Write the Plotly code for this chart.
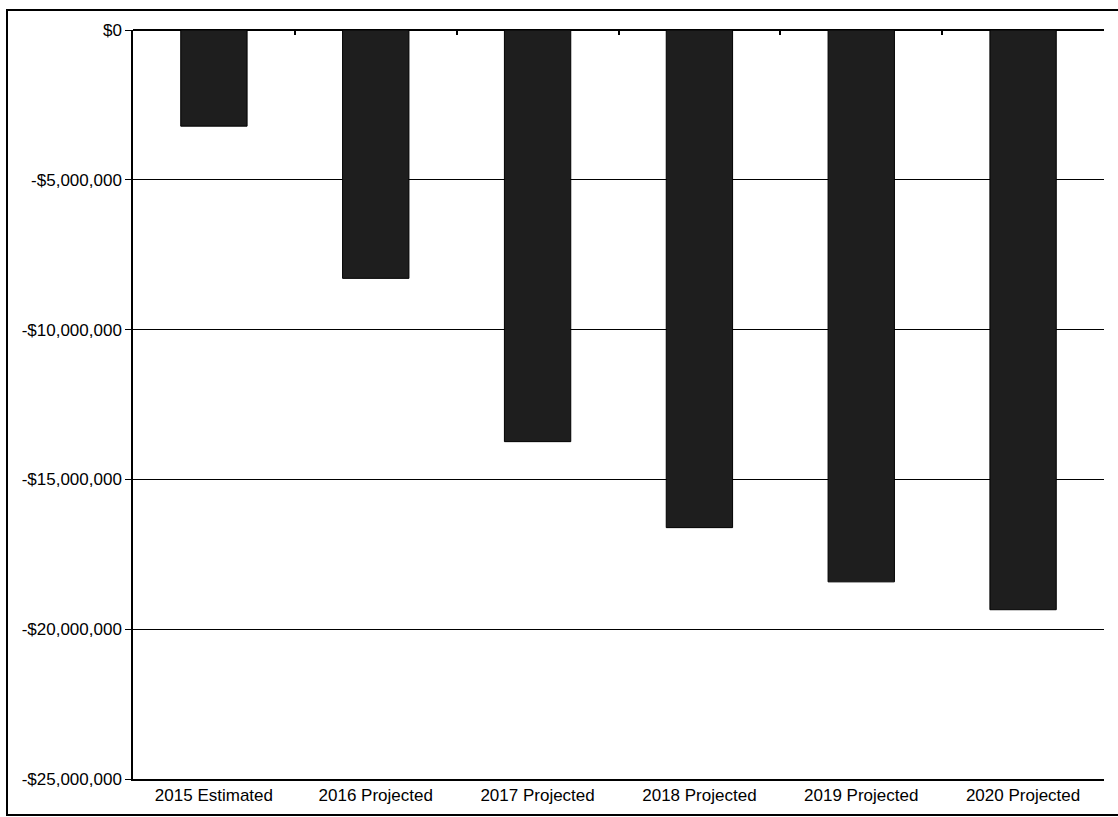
import plotly.graph_objects as go

# Annual budget shortfall by year
categories = ["2015 Estimated", "2016 Projected", "2017 Projected",
              "2018 Projected", "2019 Projected", "2020 Projected"]
shortfall = [-3_210_000, -8_290_000, -13_740_000, -16_610_000, -18_420_000, -19_350_000]

y_tick_values = [0, -5_000_000, -10_000_000, -15_000_000, -20_000_000, -25_000_000]
y_tick_labels = ["$0", "-$5,000,000", "-$10,000,000", "-$15,000,000",
                 "-$20,000,000", "-$25,000,000"]

FONT = "Liberation Sans, Arial, sans-serif"

fig = go.Figure()
fig.add_trace(go.Bar(
    x=categories, y=shortfall,
    marker=dict(color="#1e1e1e", line=dict(color="#000000", width=1)),
    hoverinfo="x+y",
))
# invisible trace carrying the category tick marks along the zero line
fig.add_trace(go.Scatter(x=categories, y=[0] * len(categories), xaxis="x2",
                         mode="markers", marker=dict(opacity=0), showlegend=False,
                         hoverinfo="skip"))

fig.update_layout(
    width=1118, height=817,
    margin=dict(l=133, r=14, t=30, b=38),
    paper_bgcolor="white", plot_bgcolor="white",
    showlegend=False,
    bargap=0.59,
    font=dict(family=FONT, size=17, color="black"),
    xaxis=dict(
        type="category",
        showgrid=False, zeroline=False,
        showline=True, linecolor="black", linewidth=1.5,
        ticks="", tickfont=dict(size=17, color="black"),
    ),
    xaxis2=dict(
        type="category", overlaying="x", side="top", anchor="y",
        matches="x",
        showgrid=False, zeroline=False, showline=False,
        ticks="inside", tickson="boundaries", ticklen=5, tickcolor="black",
        tickwidth=1.5, showticklabels=False,
    ),
    yaxis=dict(
        range=[-25_000_000, 0],
        tickvals=y_tick_values, ticktext=y_tick_labels,
        showgrid=True, gridcolor="black", gridwidth=1.2,
        zeroline=True, zerolinecolor="black", zerolinewidth=1.5,
        showline=True, linecolor="black", linewidth=1.5,
        ticks="outside", ticklen=6, tickcolor="black",
        tickfont=dict(size=17, color="black"),
    ),
)

# outer frame around the chart
fig.add_shape(type="rect", xref="paper", yref="paper",
              x0=-126 / 971, x1=1120 / 971, y0=-36 / 749, y1=769 / 749,
              line=dict(color="black", width=2), fillcolor="rgba(0,0,0,0)",
              layer="below")

fig.write_html("out.html")
